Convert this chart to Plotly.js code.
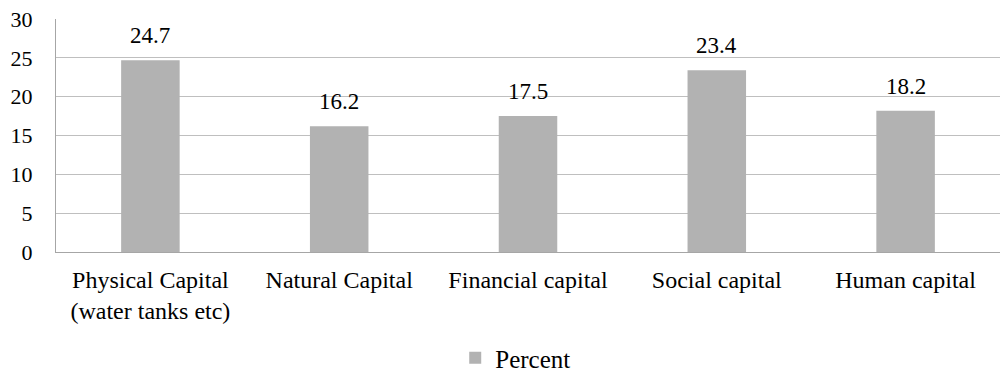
<!DOCTYPE html>
<html>
<head>
<meta charset="utf-8">
<script src="https://cdn.plot.ly/plotly-3.0.1.min.js"></script>
<style>html,body{margin:0;padding:0;background:#fff;}#chart{width:1004px;height:372px;}</style>
</head>
<body>
<div id="chart"></div>
<script>
const categories = ["Physical Capital<br>(water tanks etc)", "Natural Capital", "Financial capital", "Social capital", "Human capital"];
const percent = [24.7, 16.2, 17.5, 23.4, 18.2];
const valueLabels = ["24.7", "16.2", "17.5", "23.4", "18.2"];
const yTicks = [0, 5, 10, 15, 20, 25, 30];

const fam = "Liberation Serif";
const font = {family: fam, size: 23, color: "#000"};

const trace = {
  type: "bar",
  x: categories,
  y: percent,
  name: "Percent",
  marker: {color: "#b2b2b2"},
  width: 0.31,
  hoverinfo: "skip"
};

const annotations = categories.map((c, i) => ({
  x: c, y: percent[i], text: valueLabels[i], showarrow: false,
  yanchor: "bottom", yshift: 10, font: {family: fam, size: 23, color: "#000"}
}));

const layout = {
  width: 1004, height: 372,
  margin: {l: 56, r: 4, t: 19, b: 120, autoexpand: false},
  paper_bgcolor: "#fff", plot_bgcolor: "#fff",
  font: font,
  showlegend: true,
  legend: {orientation: "h", x: 0.487, xanchor: "center", y: -0.455, yanchor: "middle",
           font: {family: fam, size: 25, color: "#000"}},
  xaxis: {
    automargin: false,
    showgrid: false, zeroline: false, showline: true, linecolor: "#a6a6a6", linewidth: 1,
    ticks: "", tickfont: {family: fam, size: 24, color: "#000"}, ticklabelstandoff: 6
  },
  yaxis: {
    automargin: false,
    range: [0, 30], tickvals: yTicks, ticktext: yTicks.map(String),
    showgrid: true, gridcolor: "#bfbfbf", gridwidth: 1,
    zeroline: false, showline: true, linecolor: "#a6a6a6", linewidth: 1,
    ticks: "", tickfont: {family: fam, size: 22, color: "#000"}, ticklabelstandoff: 18
  },
  annotations: annotations,
  bargap: 0.69
};

Plotly.newPlot("chart", [trace], layout, {displayModeBar: false, staticPlot: true});
</script>
</body>
</html>
